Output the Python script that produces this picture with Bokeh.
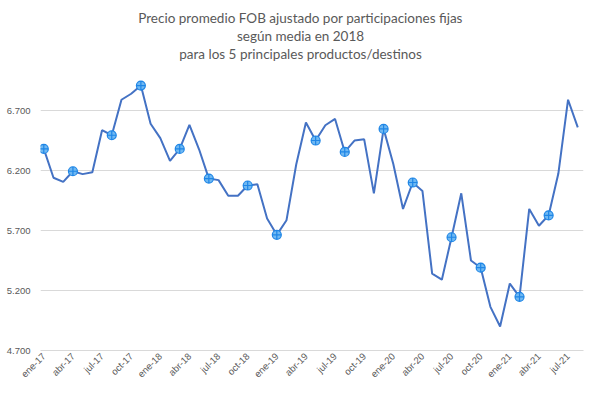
import math
from bokeh.plotting import figure
from bokeh.models import FixedTicker, NumeralTickFormatter, ColumnDataSource
from bokeh.core.properties import value
from bokeh.embed import file_html
from bokeh.resources import INLINE

# ---- data ----
month_names = ["ene", "feb", "mar", "abr", "may", "jun", "jul", "ago", "sep", "oct", "nov", "dic"]
periods = [f"{month_names[i % 12]}-{17 + i // 12}" for i in range(56)]  # ene-17 .. ago-21
precio = [6.38, 6.14, 6.105, 6.194, 6.17, 6.186, 6.536, 6.494, 6.79, 6.84, 6.908, 6.59,
          6.47, 6.28, 6.38, 6.58, 6.375, 6.133, 6.12, 5.99, 5.99, 6.075, 6.086, 5.80,
          5.664, 5.786, 6.25, 6.60, 6.45, 6.577, 6.63, 6.355, 6.45, 6.46, 6.01, 6.547,
          6.255, 5.88, 6.10, 6.03, 5.34, 5.29, 5.644, 6.01, 5.45, 5.39, 5.064, 4.90,
          5.258, 5.147, 5.88, 5.74, 5.827, 6.175, 6.79, 6.56]
marker_idx = [0, 3, 7, 10, 14, 17, 21, 24, 28, 31, 35, 38, 42, 45, 49, 52]
y_ticks = [4.7, 5.2, 5.7, 6.2, 6.7]
x_tick_idx = list(range(0, 56, 3))
title_lines = ["Precio promedio FOB ajustado por participaciones fijas",
               "según media en 2018",
               "para los 5 principales productos/destinos"]

x = list(range(len(precio)))
src = ColumnDataSource(dict(x=x, y=precio, label=periods))
msrc = ColumnDataSource(dict(x=marker_idx, y=[precio[i] for i in marker_idx]))

p = figure(width=600, height=394, output_backend="svg", toolbar_location=None,
           x_range=(-0.34, 55.59), y_range=(4.7, 7.617),
           min_border_left=40, min_border_right=17, min_border_top=0, min_border_bottom=44)
p.outline_line_color = None

p.line("x", "y", source=src, line_color="#4472C4", line_width=2)
p.scatter("x", "y", source=msrc, marker="circle_cross", size=9,
          fill_color="#6fb8f2", line_color="#1f86e6", line_width=1.2)

# title (inside the invisible upper part of the frame)
tsrc = ColumnDataSource(dict(x=[26.44] * 3, y=[7.475, 7.325, 7.175], t=title_lines))
p.text("x", "y", text="t", source=tsrc, text_align="center", text_baseline="middle",
       text_font=value("Lato"), text_font_size="13.5px", text_color="#595959")

# axes
p.yaxis.ticker = FixedTicker(ticks=y_ticks)
p.yaxis.formatter = NumeralTickFormatter(format="0.000")
p.yaxis.axis_line_color = None
p.yaxis.major_tick_line_color = None
p.yaxis.minor_tick_line_color = None
p.yaxis.major_tick_out = 0
p.yaxis.major_tick_in = 0
p.yaxis.minor_tick_out = 0
p.yaxis.major_label_standoff = 10
p.yaxis.major_label_text_font = "Liberation Sans"
p.yaxis.major_label_text_font_size = "9.5px"
p.yaxis.major_label_text_color = "#595959"

p.xaxis.ticker = FixedTicker(ticks=x_tick_idx)
p.xaxis.major_label_overrides = {i: periods[i] for i in x_tick_idx}
p.xaxis.major_label_orientation = math.pi / 4
p.xaxis.axis_line_color = "#d9d9d9"
p.xaxis.major_tick_line_color = None
p.xaxis.minor_tick_line_color = None
p.xaxis.major_tick_out = 0
p.xaxis.major_tick_in = 0
p.xaxis.minor_tick_out = 0
p.xaxis.major_label_standoff = 4
p.xaxis.major_label_text_font = "Liberation Sans"
p.xaxis.major_label_text_font_size = "9.5px"
p.xaxis.major_label_text_color = "#595959"

p.xgrid.grid_line_color = None
p.ygrid.ticker = FixedTicker(ticks=y_ticks)
p.ygrid.grid_line_color = "#d9d9d9"

open("out.html", "w").write(file_html(p, INLINE))
